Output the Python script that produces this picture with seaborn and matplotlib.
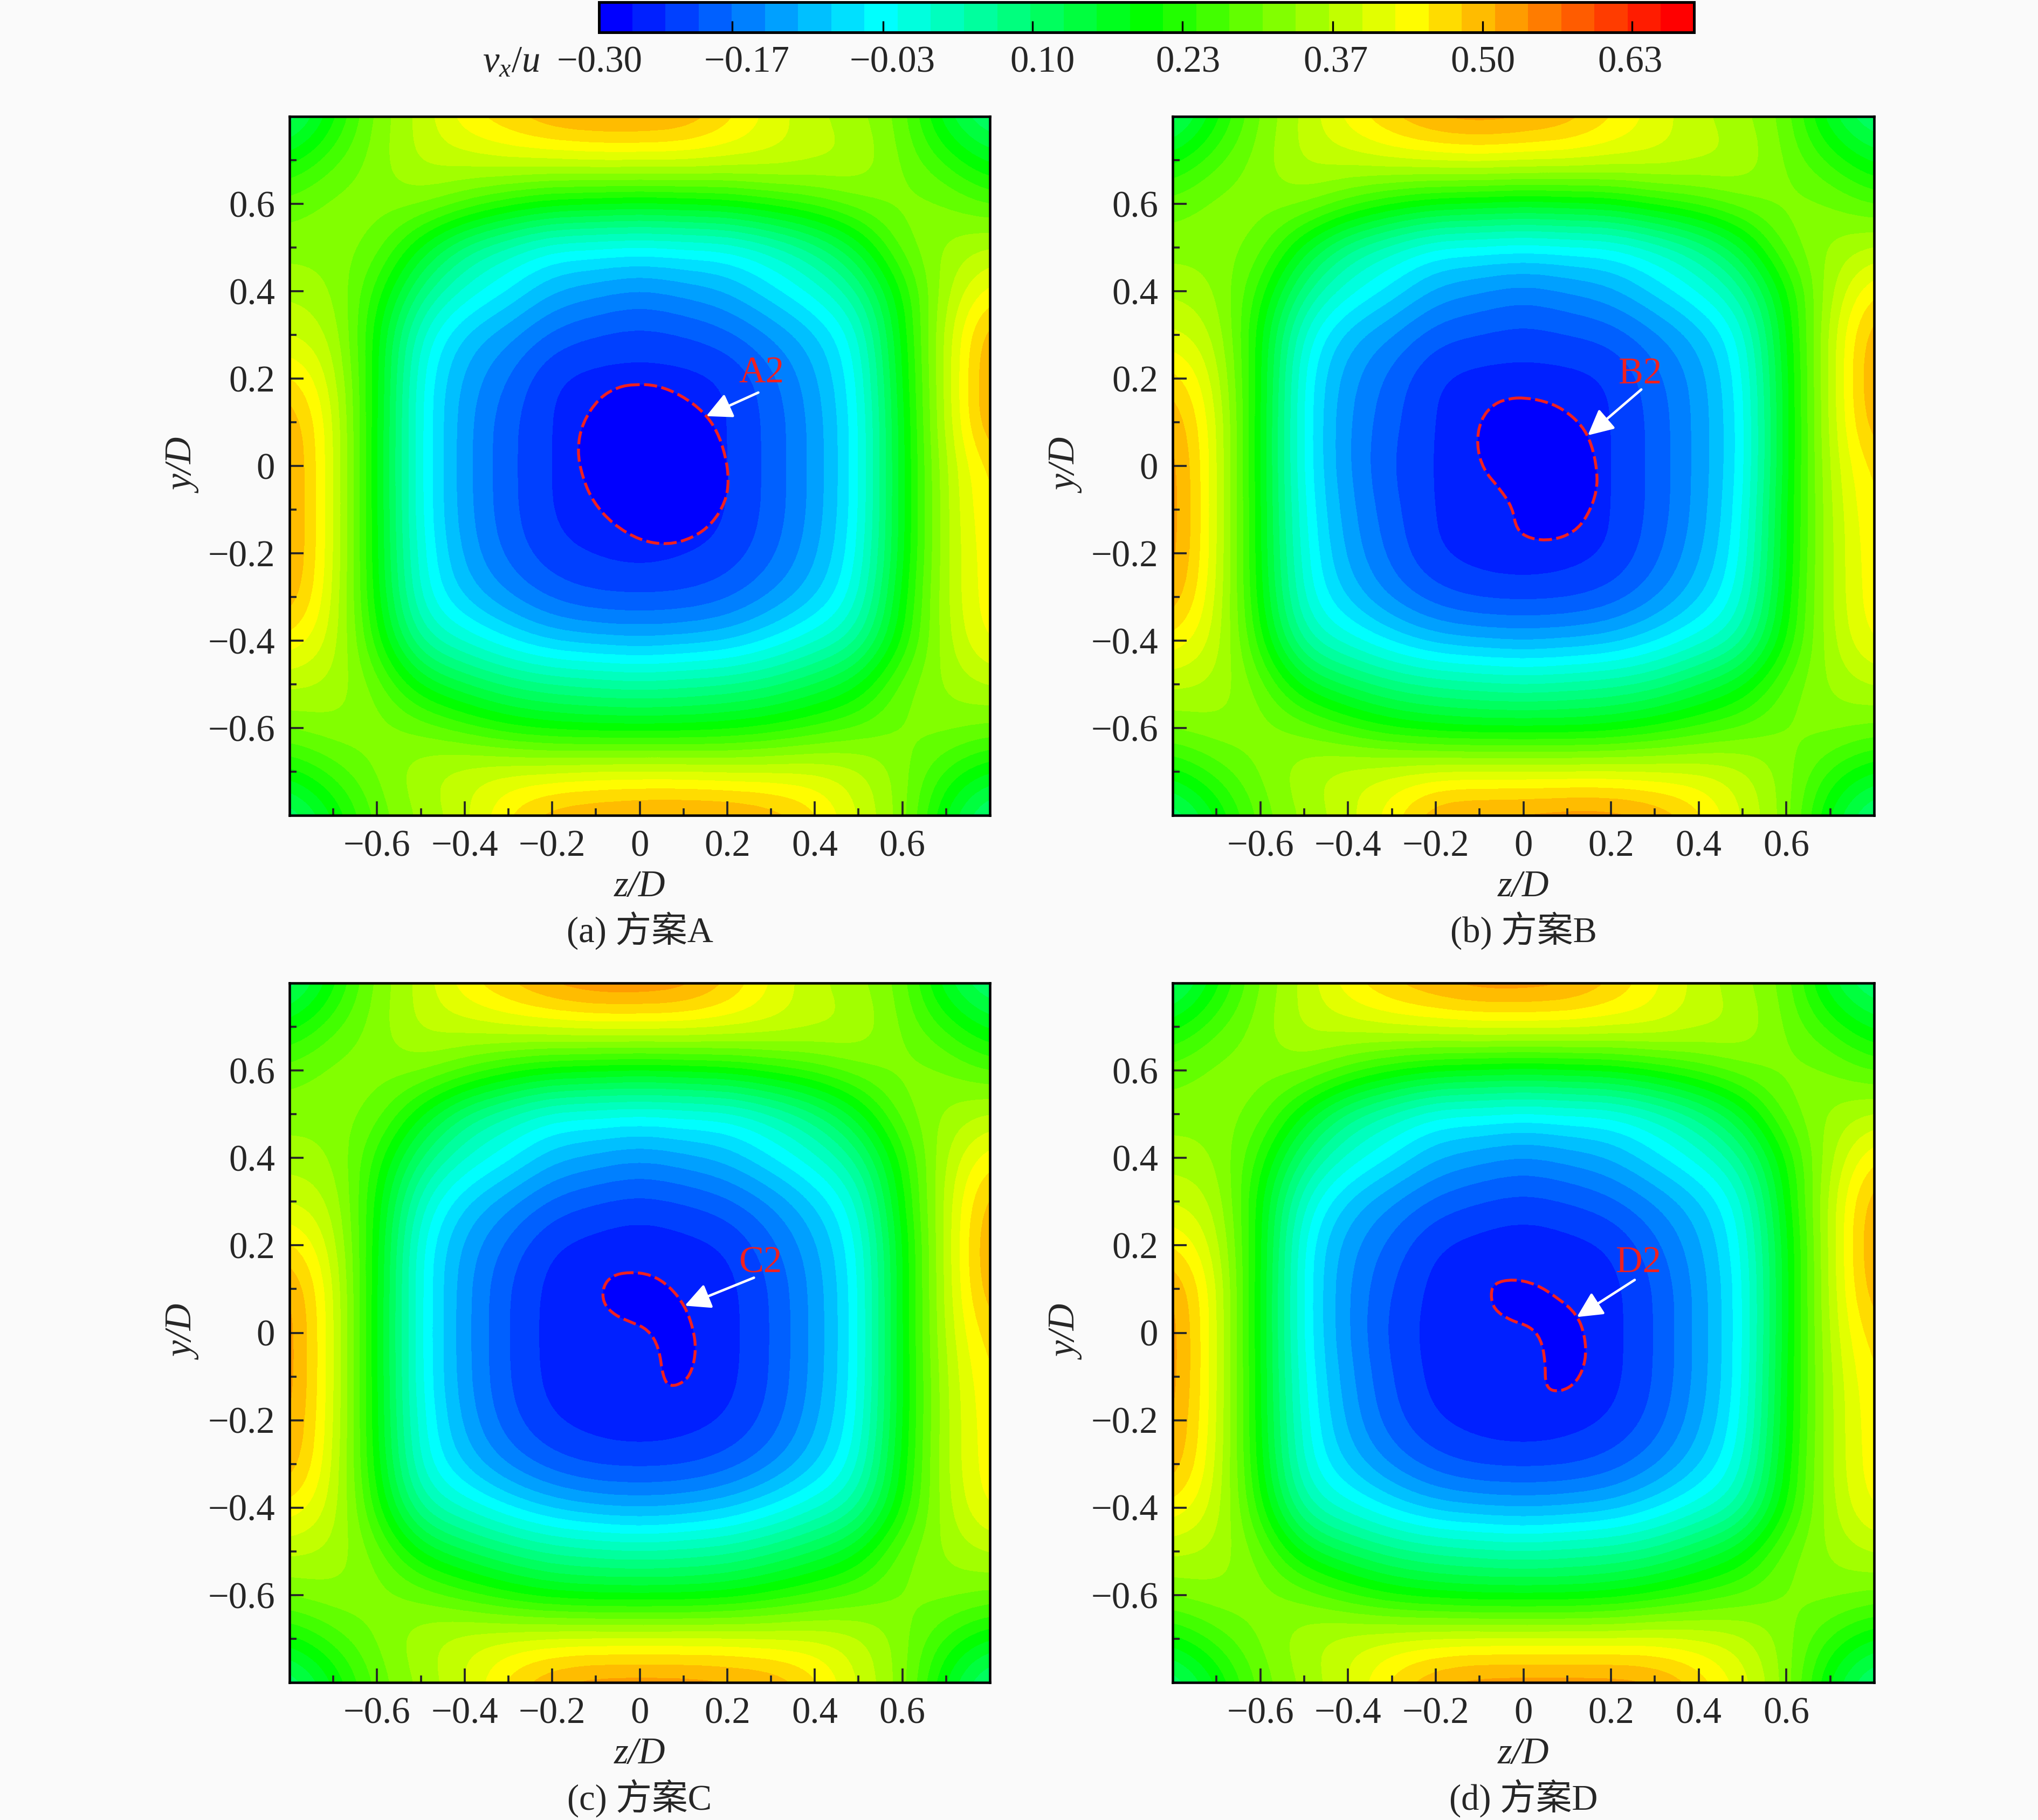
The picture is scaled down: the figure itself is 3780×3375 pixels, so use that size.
import numpy as np
import seaborn as sns
import matplotlib.pyplot as plt
from matplotlib.colors import BoundaryNorm, ListedColormap
from matplotlib.path import Path
from matplotlib.patches import PathPatch

# vx/u every 0.1 D, in hundredths. rows y=0.8 -> -0.8, cols z=-0.8 -> 0.8
field_a = [
    [8, 20, 32, 37, 45, 48, 52, 53, 53, 52, 47, 41, 37, 34, 30, 15, 8],
    [20, 27, 32, 38, 38, 40, 40, 41, 41, 41, 40, 40, 38, 37, 30, 24, 17],
    [29, 32, 32, 32, 28, 23, 20, 19, 18, 19, 20, 23, 26, 30, 32, 31, 27],
    [32, 32, 30, 18, 7, 2, -3, -3, -4, -3, -3, 1, 7, 16, 30, 34, 37],
    [36, 34, 24, 8, 0, -5, -11, -13, -15, -13, -11, -6, -1, 6, 22, 36, 44],
    [39, 37, 20, 0, -9, -13, -18, -20, -21, -20, -18, -14, -9, -1, 20, 38, 52],
    [47, 39, 20, -3, -12, -17, -23, -24, -24, -24, -23, -18, -12, -3, 19, 38, 53],
    [52, 41, 19, -3, -13, -19, -23, -25, -25, -25, -23, -19, -13, -4, 18, 38, 53],
    [53, 41, 19, -3, -13, -19, -23, -25, -26, -25, -23, -19, -13, -4, 18, 37, 47],
    [53, 41, 19, -3, -13, -19, -23, -25, -26, -25, -23, -19, -13, -4, 18, 37, 46],
    [53, 41, 19, -2, -12, -18, -22, -23, -24, -23, -22, -18, -12, -3, 18, 37, 45],
    [52, 40, 20, -1, -9, -14, -18, -20, -20, -20, -18, -14, -9, -1, 20, 37, 45],
    [45, 39, 23, 5, 0, -5, -9, -10, -11, -10, -9, -5, 0, 5, 22, 36, 44],
    [37, 36, 30, 18, 13, 9, 7, 6, 5, 6, 7, 9, 13, 18, 30, 34, 37],
    [31, 33, 32, 30, 26, 22, 20, 19, 19, 19, 20, 22, 25, 28, 31, 32, 30],
    [20, 26, 31, 36, 39, 40, 40, 41, 41, 41, 40, 40, 40, 38, 32, 24, 18],
    [8, 18, 29, 34, 38, 46, 51, 52, 53, 53, 53, 51, 47, 39, 33, 17, 7],
]
field_b = [
    [8, 20, 31, 37, 44, 49, 53, 54, 53, 51, 46, 41, 37, 34, 30, 15, 8],
    [20, 27, 32, 38, 38, 40, 41, 42, 41, 41, 40, 40, 38, 37, 30, 24, 17],
    [29, 32, 32, 32, 27, 22, 19, 18, 17, 18, 19, 23, 26, 30, 32, 31, 27],
    [32, 32, 30, 17, 6, 1, -4, -4, -5, -4, -4, 0, 6, 15, 30, 34, 37],
    [36, 34, 24, 7, -1, -6, -12, -14, -16, -14, -12, -7, -2, 5, 21, 36, 46],
    [40, 37, 20, -1, -10, -14, -19, -20, -21, -20, -19, -15, -10, -2, 19, 38, 52],
    [48, 39, 20, -4, -13, -18, -23, -24, -24, -24, -23, -18, -13, -4, 18, 38, 53],
    [52, 41, 19, -4, -14, -19, -23, -25, -25, -25, -23, -19, -13, -5, 18, 38, 52],
    [54, 41, 19, -4, -14, -20, -23, -25, -26, -25, -23, -19, -13, -5, 18, 38, 47],
    [54, 41, 19, -3, -13, -19, -23, -25, -26, -25, -23, -19, -13, -4, 19, 37, 46],
    [54, 41, 19, -2, -12, -18, -23, -24, -25, -24, -23, -18, -12, -3, 19, 37, 45],
    [52, 40, 20, -1, -9, -15, -19, -21, -21, -21, -19, -15, -9, -1, 20, 37, 45],
    [45, 39, 23, 4, -1, -6, -10, -11, -12, -11, -10, -6, -1, 4, 22, 36, 44],
    [37, 36, 30, 17, 12, 8, 6, 5, 4, 5, 6, 8, 13, 18, 29, 34, 37],
    [31, 33, 32, 30, 25, 21, 19, 18, 18, 18, 19, 22, 25, 28, 31, 32, 30],
    [20, 26, 31, 36, 39, 40, 41, 41, 41, 41, 41, 40, 40, 38, 32, 24, 18],
    [8, 18, 29, 34, 38, 44, 52, 53, 53, 54, 54, 52, 47, 39, 33, 17, 7],
]
field_c = [
    [8, 20, 32, 37, 45, 49, 53, 55, 55, 54, 49, 42, 37, 34, 30, 15, 8],
    [20, 27, 32, 38, 38, 40, 41, 42, 42, 42, 41, 40, 38, 37, 30, 24, 17],
    [29, 32, 32, 32, 28, 23, 20, 19, 18, 19, 20, 23, 26, 30, 32, 31, 27],
    [32, 32, 30, 19, 8, 3, -2, -2, -3, -2, -2, 2, 8, 17, 30, 34, 37],
    [35, 34, 24, 9, 1, -4, -10, -12, -14, -12, -10, -5, 0, 7, 23, 37, 45],
    [39, 37, 21, 1, -8, -13, -18, -20, -21, -20, -18, -14, -8, 0, 21, 38, 51],
    [47, 39, 20, -3, -12, -18, -23, -24, -25, -24, -23, -18, -12, -3, 19, 38, 53],
    [53, 41, 19, -3, -13, -20, -24, -25, -25, -25, -24, -20, -13, -4, 19, 38, 52],
    [54, 41, 19, -3, -13, -20, -24, -25, -26, -25, -24, -20, -13, -4, 19, 38, 48],
    [54, 41, 19, -3, -13, -20, -24, -25, -26, -25, -24, -20, -13, -4, 19, 37, 46],
    [53, 41, 19, -2, -12, -19, -23, -24, -25, -24, -23, -19, -12, -3, 19, 37, 45],
    [52, 40, 20, -1, -9, -15, -19, -21, -21, -21, -19, -15, -9, -1, 20, 37, 45],
    [45, 39, 23, 5, 0, -5, -9, -11, -12, -11, -9, -5, 0, 5, 22, 36, 44],
    [37, 36, 30, 18, 13, 9, 6, 5, 4, 5, 6, 9, 13, 18, 30, 34, 37],
    [31, 33, 32, 30, 26, 22, 19, 18, 18, 18, 19, 22, 25, 28, 31, 32, 30],
    [20, 26, 31, 36, 39, 40, 41, 41, 41, 41, 41, 40, 40, 38, 32, 24, 18],
    [8, 18, 29, 34, 39, 47, 52, 54, 54, 54, 53, 52, 47, 39, 33, 17, 7],
]
field_d = [
    [8, 20, 31, 37, 45, 49, 52, 54, 54, 53, 49, 43, 38, 34, 30, 15, 8],
    [20, 27, 32, 38, 38, 40, 41, 42, 42, 42, 41, 41, 38, 37, 30, 24, 17],
    [29, 32, 32, 32, 27, 22, 19, 18, 17, 18, 19, 22, 26, 30, 32, 31, 27],
    [32, 32, 30, 18, 7, 2, -3, -3, -4, -3, -3, 1, 7, 16, 30, 34, 37],
    [35, 34, 24, 8, 0, -5, -11, -13, -15, -13, -11, -6, -1, 6, 22, 36, 46],
    [39, 37, 20, 0, -9, -14, -18, -20, -21, -20, -18, -14, -9, -1, 20, 38, 52],
    [46, 39, 20, -4, -13, -18, -23, -24, -25, -24, -23, -18, -12, -3, 18, 38, 53],
    [53, 41, 19, -4, -14, -20, -24, -25, -25, -25, -24, -20, -13, -4, 18, 38, 52],
    [54, 41, 19, -4, -14, -21, -24, -25, -26, -25, -24, -20, -13, -4, 18, 38, 48],
    [54, 41, 19, -3, -13, -20, -24, -25, -26, -25, -24, -20, -13, -4, 19, 37, 46],
    [53, 41, 19, -2, -12, -19, -23, -24, -25, -24, -23, -19, -12, -3, 19, 37, 45],
    [52, 40, 20, -1, -9, -15, -19, -21, -21, -21, -19, -15, -9, -1, 20, 37, 45],
    [45, 39, 23, 4, -1, -6, -10, -11, -12, -11, -10, -6, -1, 4, 22, 36, 44],
    [37, 36, 30, 17, 12, 8, 6, 5, 4, 5, 6, 8, 13, 18, 30, 34, 37],
    [31, 33, 32, 30, 25, 21, 19, 18, 18, 18, 19, 22, 25, 28, 31, 32, 30],
    [20, 26, 31, 36, 39, 40, 41, 41, 41, 41, 41, 41, 40, 38, 32, 24, 18],
    [8, 18, 29, 34, 39, 47, 52, 54, 54, 54, 54, 53, 48, 41, 33, 17, 7],
]

# outline of the lowest band, z then y
blob_a_z = [-.011, .039, .095, .146, .177, .196, .204, .196, .165, .121, .064, .001, -.062, -.106, -.131, -.143, -.131, -.093, -.049]
blob_a_y = [.187, .185, .162, .124, .080, .024, -.033, -.083, -.133, -.165, -.181, -.171, -.133, -.083, -.026, .036, .099, .156, .181]
blob_b_z = [.003, .046, .090, .134, .156, .168, .168, .147, .116, .065, .015, -.016, -.025, -.054, -.092, -.107, -.098, -.067, -.029]
blob_b_y = [.156, .149, .131, .093, .049, -.008, -.058, -.114, -.152, -.171, -.167, -.146, -.095, -.052, -.008, .049, .106, .143, .155]
blob_c_z = [-.025, .025, .069, .103, .122, .129, .119, .100, .069, .053, .044, .019, -.019, -.057, -.084, -.084, -.063]
blob_c_y = [.139, .134, .106, .062, .011, -.039, -.089, -.114, -.124, -.102, -.033, .008, .024, .040, .068, .106, .131]
blob_d_z = [-.023, .028, .078, .122, .141, .143, .122, .084, .050, .050, .040, .015, -.029, -.067, -.075, -.067]
blob_d_y = [.123, .112, .080, .043, -.008, -.064, -.114, -.136, -.127, -.064, -.014, .015, .028, .053, .087, .114]

captions = ['(a) 方案A', '(b) 方案B', '(c) 方案C', '(d) 方案D']
zone_names = ['A2', 'B2', 'C2', 'D2']
arrow_tail = [(.271, .168), (.269, .175), (.261, .126), (.254, .121)]
arrow_tip = [(.152, .114), (.147, .070), (.103, .062), (.122, .036)]
name_pos = [(.278, .212), (.266, .209), (.276, .159), (.263, .159)]

major_ticks = [-0.6, -0.4, -0.2, 0, 0.2, 0.4, 0.6]
minor_ticks = [-0.7, -0.5, -0.3, -0.1, 0.1, 0.3, 0.5, 0.7]
major_labels = ['\u22120.6', '\u22120.4', '\u22120.2', '0', '0.2', '0.4', '0.6']
cbar_ticks = [-0.167, -0.033, 0.1, 0.233, 0.367, 0.5, 0.633]
cbar_labels = ['\u22120.30', '\u22120.17', '\u22120.03', '0.10', '0.23', '0.37', '0.50', '0.63']
cbar_label_x = [1112, 1385, 1655, 1933, 2203, 2477, 2750, 3023]

W, H = 3780, 3375
BG = '#fafafa'
FS = 16.5

sns.set_theme(style='ticks')
plt.rcParams['font.family'] = ['Liberation Serif', 'Noto Sans CJK SC']
plt.rcParams['mathtext.fontset'] = 'custom'
plt.rcParams['mathtext.it'] = 'Liberation Serif:italic'
plt.rcParams['mathtext.rm'] = 'Liberation Serif'

# 33 flat colour bands like the contour legend
vmin, vmax, n_bands = -0.2856, 0.688, 33
levels = np.linspace(vmin, vmax, n_bands + 1)
palette = sns.blend_palette(['#0000ff', '#00ffff', '#00ff00', '#ffff00', '#ff0000'], n_colors=n_bands)
cmap = ListedColormap(palette)
norm = BoundaryNorm(levels, n_bands)


def add_axes_px(fig, left, top, right, bottom):
    return fig.add_axes([left / W, 1 - bottom / H, (right - left) / W, (bottom - top) / H])


def smooth_closed(z, y):
    # closed quadratic path through the midpoints, keeps the outline round
    pts = np.column_stack([z, y])
    mids = (pts + np.roll(pts, -1, axis=0)) / 2
    verts = [mids[-1]]
    codes = [Path.MOVETO]
    for p, m in zip(pts, mids):
        verts += [p, m]
        codes += [Path.CURVE3, Path.CURVE3]
    return Path(verts, codes)


def draw_panel(ax, field, blob_z, blob_y, i):
    values = np.maximum(np.array(field) / 100, -0.25)
    ax.imshow(values, cmap=cmap, norm=norm, extent=(-0.85, 0.85, -0.85, 0.85),
              interpolation='bicubic', interpolation_stage='data', aspect='auto')
    ax.add_patch(PathPatch(smooth_closed(blob_z, blob_y), facecolor='#0000ff', edgecolor='#f02020',
                           lw=1.3, linestyle=(0, (4.5, 1.5))))
    ax.annotate('', xy=arrow_tip[i], xytext=arrow_tail[i],
                arrowprops=dict(arrowstyle='-|>', color='white', lw=1.1, mutation_scale=24,
                                shrinkA=0, shrinkB=0))
    ax.text(name_pos[i][0], name_pos[i][1], zone_names[i], color='#f02020', fontsize=FS,
            ha='center', va='center')

    ax.set_xlim(-0.8, 0.8)
    ax.set_ylim(-0.8, 0.8)
    ax.set_xticks(major_ticks, major_labels)
    ax.set_yticks(major_ticks, major_labels)
    ax.set_xticks(minor_ticks, minor=True)
    ax.set_yticks(minor_ticks, minor=True)
    ax.tick_params(which='major', direction='in', length=6.2, width=0.9, labelsize=FS, pad=6.5)
    ax.tick_params(which='minor', direction='in', length=3.1, width=0.9)
    for s in ax.spines.values():
        s.set_linewidth(1.1)
        s.set_color('black')
    ax.set_xlabel('z/D', fontsize=FS, style='italic', va='center')
    ax.set_ylabel('y/D', fontsize=FS, style='italic', va='center')
    ax.xaxis.set_label_coords(0.5, -0.1025)
    ax.yaxis.set_label_coords(-0.149, 0.5)


fig = plt.figure(figsize=(W / 300, H / 300), dpi=300, facecolor=BG)

panel_box = [(537, 216, 1836, 1512), (2175, 216, 3476, 1512),
             (537, 1823, 1836, 3120), (2175, 1823, 3476, 3120)]
caption_y = [1726, 1726, 3335, 3335]
fields = [field_a, field_b, field_c, field_d]
blobs = [(blob_a_z, blob_a_y), (blob_b_z, blob_b_y), (blob_c_z, blob_c_y), (blob_d_z, blob_d_y)]

for i, box in enumerate(panel_box):
    ax = add_axes_px(fig, *box)
    draw_panel(ax, fields[i], blobs[i][0], blobs[i][1], i)
    fig.text((box[0] + box[2]) / 2 / W, 1 - caption_y[i] / H, captions[i], fontsize=16,
             ha='center', va='center')

# legend strip on top
cax = add_axes_px(fig, 1111, 4, 3142, 60)
sns.heatmap(np.arange(n_bands)[None, :], ax=cax, cmap=cmap, cbar=False, xticklabels=False,
            yticklabels=False, vmin=-0.5, vmax=n_bands - 0.5)
cax.set_axisbelow(False)
cax.set_xticks((np.array(cbar_ticks) - vmin) / (vmax - vmin) * n_bands)
cax.set_xticklabels([])
cax.set_yticks([])
cax.tick_params(axis='x', direction='in', length=5, width=0.8, color='black')
for s in cax.spines.values():
    s.set_visible(True)
    s.set_linewidth(1.2)
    s.set_color('black')
for x, lab in zip(cbar_label_x, cbar_labels):
    fig.text(x / W, 1 - 117 / H, lab, fontsize=FS, ha='center', va='center')
fig.text(948 / W, 1 - 117 / H, r'$v_x/u$', fontsize=FS, ha='center', va='center')

fig.savefig('out.png', dpi=300, facecolor=BG)
